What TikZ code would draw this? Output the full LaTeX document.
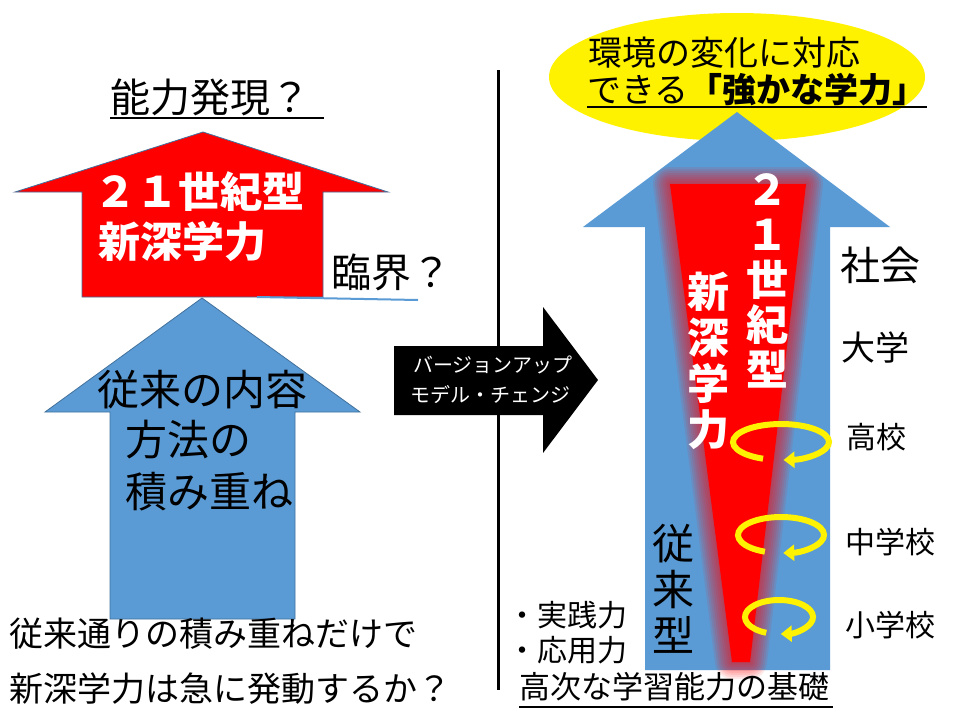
\documentclass[tikz,border=0pt]{standalone}
\usepackage{fontspec}
\setmainfont{Noto Sans CJK JP}
\usetikzlibrary{arrows.meta}
\definecolor{abl}{HTML}{5B9BD5}
\definecolor{abe}{HTML}{41719C}
\newcommand\fsz[1]{\fontsize{#1}{#1}\selectfont}

\begin{document}
\begin{tikzpicture}[x=1pt,y=-1pt,
  txt/.style={inner sep=0pt,anchor=base west},
  col/.style={inner sep=0pt,align=center},
  uline/.style={line width=1.6pt},
  yloop/.style={yellow,line width=6pt,-{Triangle[length=11pt,width=16pt]}}]
\useasboundingbox(0,0)rectangle(960,720);
\fill[white](0,0)rectangle(960,720);
\draw[line width=3pt](498,70)--(498,690);
% left side
\filldraw[fill=red,draw=abe,line width=.8pt](203,132)--(388,192)--(323,192)--(323,297)--(82,297)--(82,192)--(15,192)--cycle;
\filldraw[fill=abl,draw=abe,line width=.8pt](202,298)--(360,412)--(295,412)--(295,619)--(110,619)--(110,412)--(45,412)--cycle;
\node[txt,font=\fsz{40}](ttl)at(110,112){能力発現？};
\draw[uline]([yshift=-6pt]ttl.base west)--([xshift=14pt,yshift=-6pt]ttl.base east);
\node[txt,text=white,font=\bfseries\fsz{42}](nl1)at(94,207){２１世紀型};
\node[txt,text=white,font=\bfseries\fsz{42}](nl2)at(98,257){新深学力};
\node[txt,font=\fsz{40}](rk)at(331,287){臨界？};
\draw[abl,line width=2pt](257,297)--(418,300);
\node[txt,font=\fsz{42}](o1)at(97,405){従来の内容};
\node[txt,font=\fsz{42}](o2)at(125,455){方法の};
\node[txt,font=\fsz{42}](o3)at(125,507){積み重ね};
\node[txt,font=\fsz{34}](q1)at(9,646){従来通りの積み重ねだけで};
\node[txt,font=\fsz{34}](q2)at(9,701){新深学力は急に発動するか？};
% change arrow
\fill(394,346)--(543,346)--(543,307)--(598,380)--(543,453)--(543,415)--(394,415)--cycle;
\node[anchor=base,inner sep=0pt,text=white,font=\fsz{20}](v1)at(493,372){バージョンアップ};
\node[anchor=base,inner sep=0pt,text=white,font=\fsz{20}](v2)at(490,402){モデル・チェンジ};
% right side
\fill[yellow](737,77)ellipse[x radius=188,y radius=64];
\fill[abl](737,112)--(890,227)--(830,227)--(830,670)--(645,670)--(645,227)--(583,227)--cycle;
\foreach \w in {34,30,...,2}
  \draw[red,line width=\w pt,opacity=.09,line join=round](670,184)--(806,184)--(750,662)--(732,662)--cycle;
\fill[red](670,184)--(806,184)--(750,662)--(732,662)--cycle;
\node[txt,font=\fsz{34}](e1)at(588,65){環境の変化に対応};
\node[txt,font=\fsz{34}](e2)at(587,102){できる{\bfseries「強かな学力」}};
\draw[uline]([yshift=-5pt]e2.base west)--([yshift=-5pt]e2.base east);
\node[col,text=white,font=\bfseries\fontsize{42}{45}\selectfont](c1)at(767,281){２\\１\\世\\紀\\型};
\node[col,text=white,font=\bfseries\fontsize{42}{46}\selectfont](c2)at(708,361){新\\深\\学\\力};
\node[col,font=\fontsize{42}{46}\selectfont](c3)at(673,589){従\\来\\型};
\node[txt,font=\fsz{40}](s1)at(840,280){社会};
\node[txt,font=\fsz{34}](s2)at(841,360){大学};
\node[txt,font=\fsz{30}](s3)at(846,448){高校};
\node[txt,font=\fsz{30}](s4)at(845,553){中学校};
\node[txt,font=\fsz{30}](s5)at(845,636){小学校};
\node[txt,font=\fsz{30}](p1)at(507,626){・実践力};
\node[txt,font=\fsz{30}](p2)at(507,661){・応用力};
\node[txt,font=\fsz{31}](p3)at(519,698){高次な学習能力の基礎};
\draw[uline]([yshift=-9pt]p3.base west)--([xshift=4pt,yshift=-9pt]p3.base east);
\foreach \cx/\cy/\rx/\ry in {781/442/48/18,781/535/43/18,779/617/34/17}
  \draw[yloop](\cx,\cy)++({\rx*cos(112)},{\ry*sin(112)})arc[start angle=112,end angle=447,x radius=\rx,y radius=\ry];
\end{tikzpicture}
\end{document}
